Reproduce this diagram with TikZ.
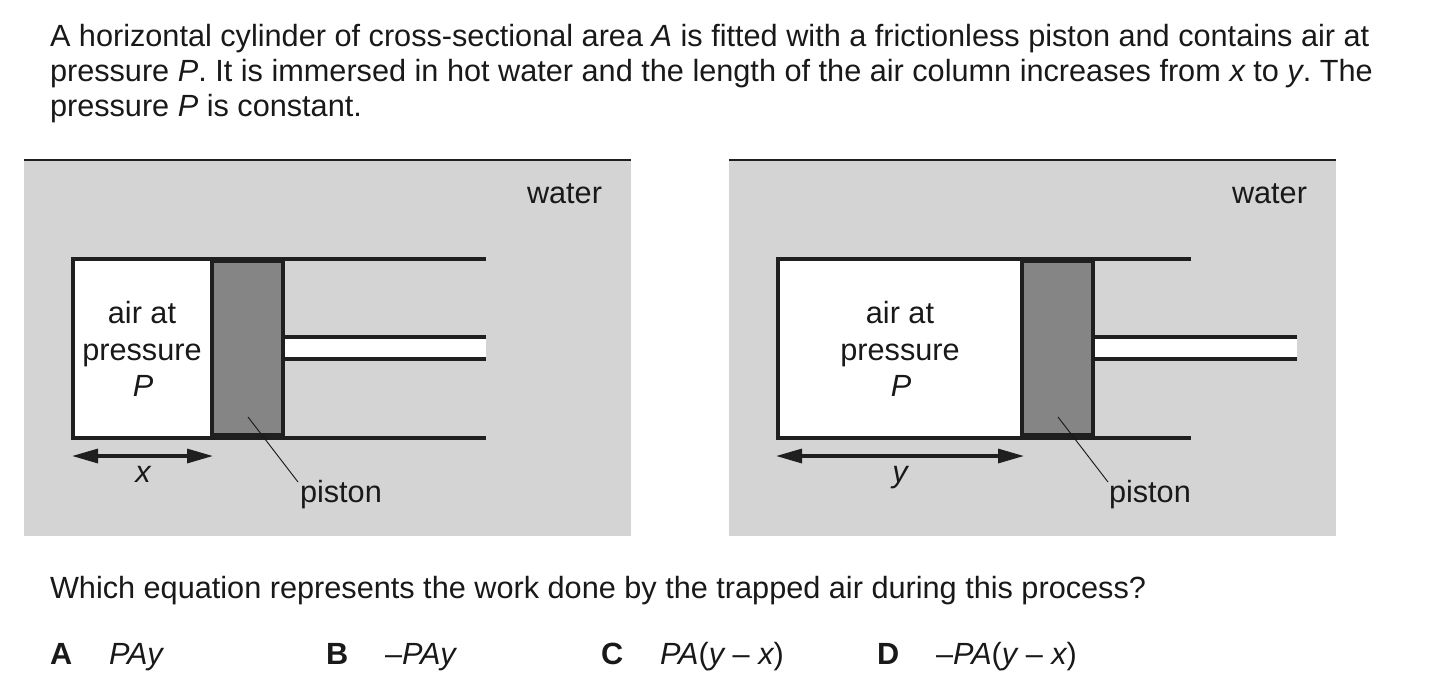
\documentclass[tikz,border=0pt]{standalone}
\usepackage{fontspec}
\setmainfont{Liberation Sans}
\usetikzlibrary{arrows.meta}
\frenchspacing
\tikzset{x=0.75pt,y=-0.75pt,
 txt/.style={font=\fontsize{23pt}{27pt}\selectfont,inner sep=0pt,outer sep=0pt,text=black!90},
 ltxt/.style={txt,anchor=base west},
 ctxt/.style={txt,anchor=base},
 wall/.style={line width=2.6pt,draw=black!88},
 band/.style={fill=black!88,draw=none},
 topline/.style={line width=2.2pt,draw=black!88},
 water/.style={fill=black!17,draw=none},
 pistonfill/.style={fill=black!48,draw=none},
 dim/.style={line width=2.4pt,draw=black!88,{Triangle[length=19.5pt,width=10.5pt]}-{Triangle[length=19.5pt,width=10.5pt]}},
 lead/.style={line width=0.7pt,draw=black!90}}
\begin{document}
\begin{tikzpicture}
\useasboundingbox[fill=white] (0,0) rectangle (1451,687);
\node[ltxt] (l1) at (50,46.5) {A horizontal cylinder of cross-sectional area {\itshape A} is fitted with a frictionless piston and contains air at};
\node[ltxt] (l2) at (50,81.5) {pressure {\itshape P}. It is immersed in hot water and the length of the air column increases from {\itshape x} to {\itshape y}. The};
\node[ltxt] (l3) at (50,116.5) {pressure {\itshape P} is constant.};
% left
\fill[water] (24,160) rectangle (631,536);
\draw[topline] (24,160) -- (631,160);
\node[ltxt] (w1) at (527,203.5) {water};
\fill[white] (73,259) rectangle (212,438);
\fill[white] (284,337) rectangle (486,359);
\fill[band] (212,257) rectangle (284,263);
\fill[band] (212,433) rectangle (284,440);
\fill[pistonfill] (213,263) rectangle (283,433);
\draw[wall] (486,259) -- (73,259) -- (73,438) -- (486,438);
\draw[wall] (212,259) -- (212,438);
\draw[wall] (283,259) -- (283,438);
\draw[wall] (284,337) -- (486,337);
\draw[wall] (284,359) -- (486,359);
\node[ctxt] (a1) at (142,323.5) {air at};
\node[ctxt] (a2) at (142,360.5) {pressure};
\node[ctxt] (a3) at (143,396.5) {{\itshape P}};
\coordinate (d1a) at (72,456); \coordinate (d1b) at (213,456);
\draw[dim] (d1a) -- (d1b);
\node[ctxt] (x1) at (143,482.5) {{\itshape x}};
\node[ltxt] (p1) at (300,502.5) {piston};
\coordinate (q1a) at (248,417); \coordinate (q1b) at (298,482);
\draw[lead] (q1a) -- (q1b);
% right
\fill[water] (729,160) rectangle (1336,536);
\draw[topline] (729,160) -- (1336,160);
\node[ltxt] (w2) at (1232,203.5) {water};
\fill[white] (778,259) rectangle (1022,438);
\fill[white] (1094,337) rectangle (1297,359);
\fill[band] (1022,257) rectangle (1094,263);
\fill[band] (1022,433) rectangle (1094,440);
\fill[pistonfill] (1023,263) rectangle (1093,433);
\draw[wall] (1191,259) -- (778,259) -- (778,438) -- (1191,438);
\draw[wall] (1022,259) -- (1022,438);
\draw[wall] (1093,259) -- (1093,438);
\draw[wall] (1094,337) -- (1297,337);
\draw[wall] (1094,359) -- (1297,359);
\node[ctxt] (b1) at (900,323.5) {air at};
\node[ctxt] (b2) at (900,360.5) {pressure};
\node[ctxt] (b3) at (901,396.5) {{\itshape P}};
\coordinate (d2a) at (776,456); \coordinate (d2b) at (1024,456);
\draw[dim] (d2a) -- (d2b);
\node[ctxt] (y1) at (900,482.5) {{\itshape y}};
\node[ltxt] (p2) at (1109,502.5) {piston};
\coordinate (q2a) at (1058,417); \coordinate (q2b) at (1108,482);
\draw[lead] (q2a) -- (q2b);
% question
\node[ltxt] (q) at (50,598.5) {Which equation represents the work done by the trapped air during this process?};
\node[ltxt] (oA) at (50,664.5) {\textbf{A}};
\node[ltxt] (tA) at (109,664.5) {{\itshape PAy}};
\node[ltxt] (oB) at (326,664.5) {\textbf{B}};
\node[ltxt] (tB) at (385,664.5) {–{\itshape PAy}};
\node[ltxt] (oC) at (601,664.5) {\textbf{C}};
\node[ltxt] (tC) at (660,664.5) {{\itshape PA}({\itshape y} – {\itshape x})};
\node[ltxt] (oD) at (877,664.5) {\textbf{D}};
\node[ltxt] (tD) at (936,664.5) {–{\itshape PA}({\itshape y} – {\itshape x})};
\end{tikzpicture}
\end{document}
